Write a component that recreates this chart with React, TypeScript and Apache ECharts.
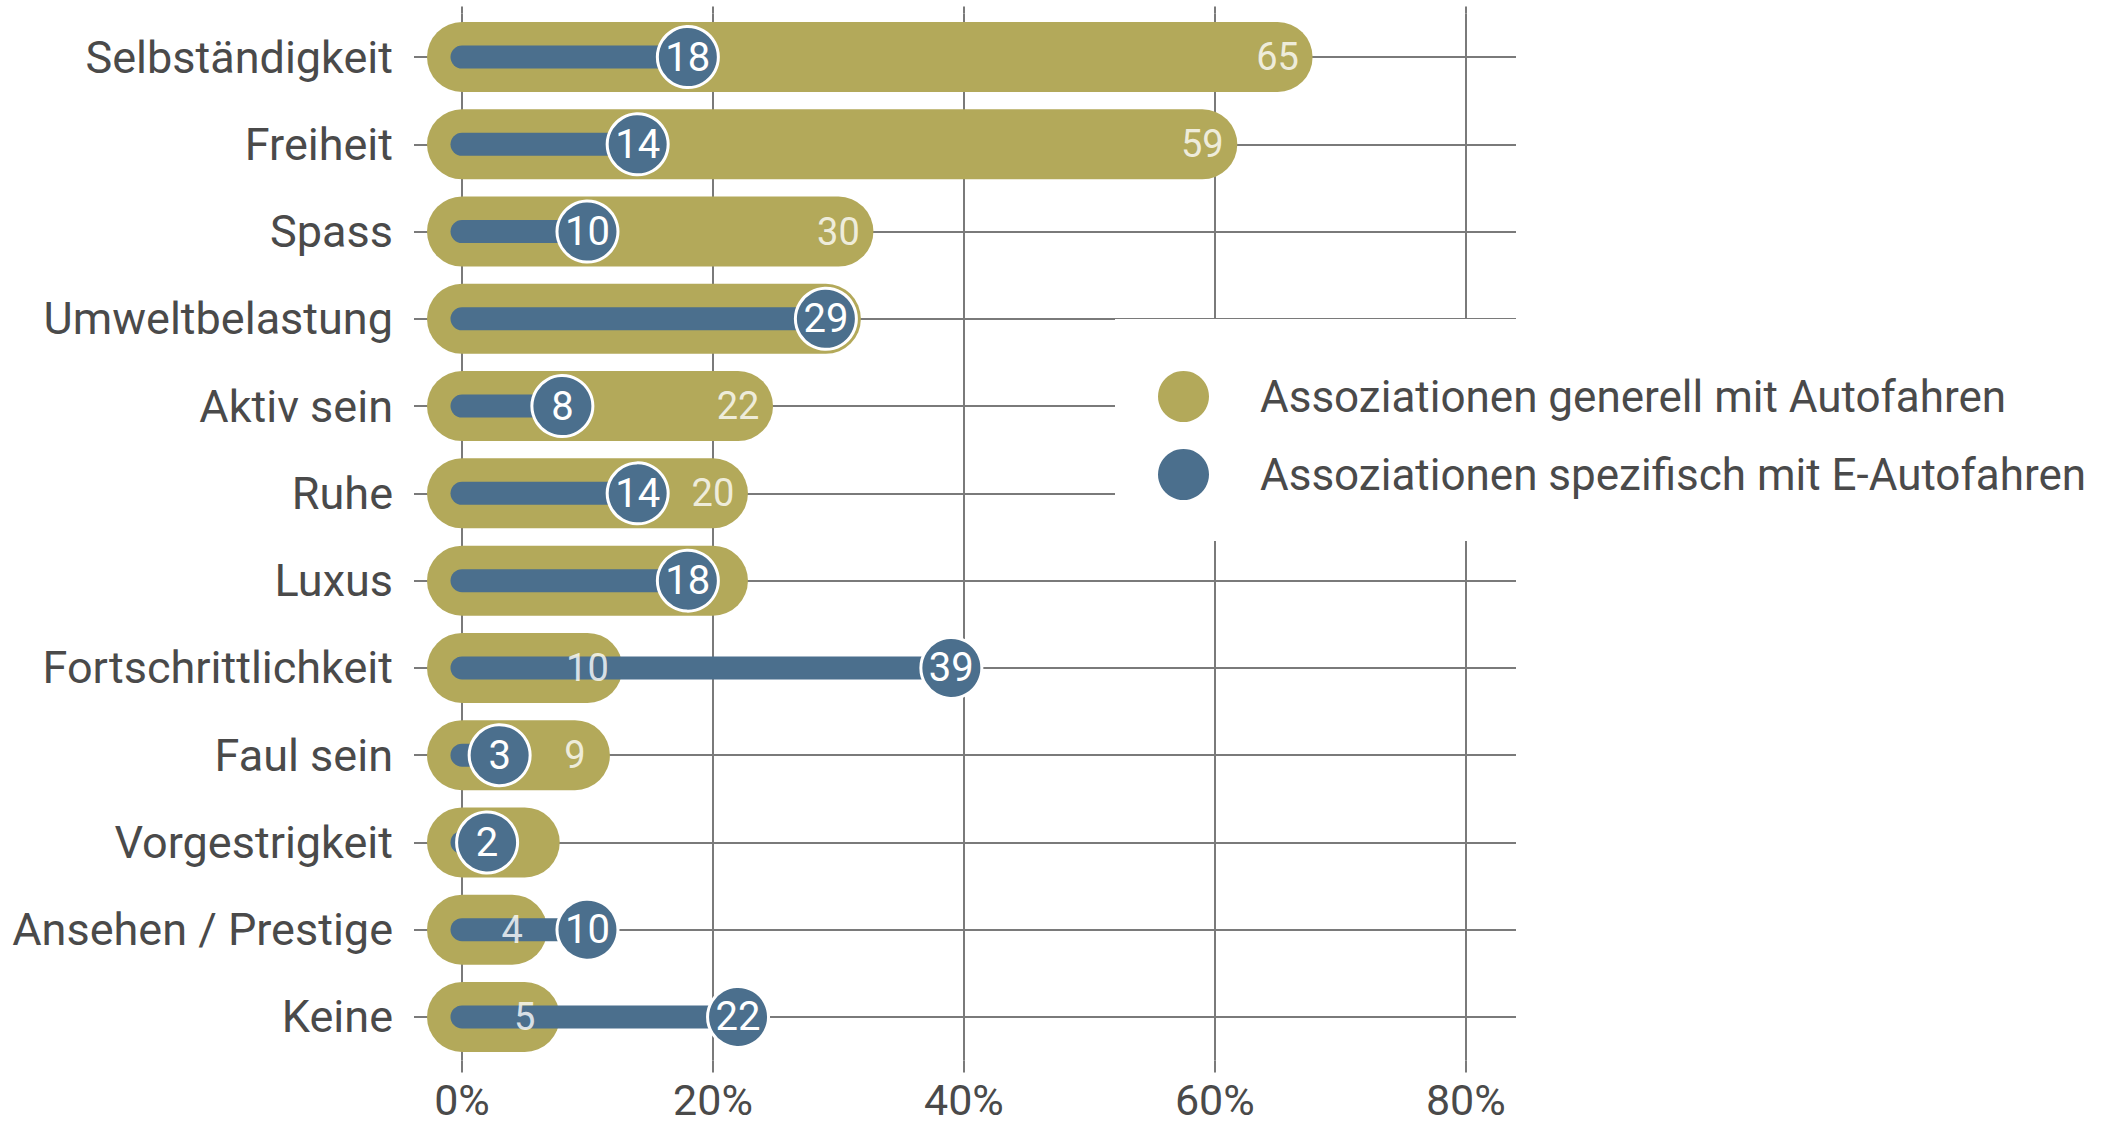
import React, { useEffect, useRef } from 'react';
import * as echarts from 'echarts';

const categories = [
  'Selbständigkeit',
  'Freiheit',
  'Spass',
  'Umweltbelastung',
  'Aktiv sein',
  'Ruhe',
  'Luxus',
  'Fortschrittlichkeit',
  'Faul sein',
  'Vorgestrigkeit',
  'Ansehen / Prestige',
  'Keine',
];
const generalValues = [65, 59, 30, 29, 22, 20, 20, 10, 9, 5, 4, 5];
const electricValues = [18, 14, 10, 29, 8, 14, 18, 39, 3, 2, 10, 22];
const xTicks = [0, 20, 40, 60, 80];
const seriesNames = [
  'Assoziationen generell mit Autofahren',
  'Assoziationen spezifisch mit E-Autofahren',
];

const OLIVE = '#b3a95a';
const BLUE = '#4b6f8d';
const GRID = '#7a7a7a';
const TEXT = '#4a4a4a';
const FONT = 'Roboto, "Noto Sans", sans-serif';

export default function App() {
  const ref = useRef<HTMLDivElement>(null);

  useEffect(() => {
    if (!ref.current) return;
    const chart = echarts.init(ref.current, undefined, { renderer: 'svg' });
    const gridLine = { color: GRID, width: 2 };

    const pill = (width: number, color: string) => (params: any, api: any) => {
      const v = api.value(0);
      const idx = api.value(1);
      const p0 = api.coord([0, idx]);
      const p1 = api.coord([v, idx]);
      return {
        type: 'line',
        shape: { x1: p0[0], y1: p0[1], x2: p1[0], y2: p1[1] },
        style: { stroke: color, lineWidth: width, lineCap: 'round' },
      };
    };

    chart.setOption({
      animation: false,
      textStyle: { fontFamily: FONT },
      grid: { left: 462, right: 593, top: 13.4, bottom: 61.4, containLabel: false },
      xAxis: [
        {
          type: 'value',
          min: 0,
          max: 84,
          interval: 20,
          position: 'bottom',
          axisLine: { show: false },
          axisTick: { show: true, length: 12, customValues: xTicks, lineStyle: gridLine },
          axisLabel: {
            customValues: xTicks,
            formatter: (v: number) => v + '%',
            fontSize: 43,
            lineHeight: 30,
            color: TEXT,
            fontFamily: FONT,
            margin: 24,
          },
          splitLine: { show: true, lineStyle: gridLine },
        },
        {
          type: 'value',
          min: 0,
          max: 84,
          interval: 20,
          position: 'top',
          axisLine: { show: false },
          axisTick: { show: true, length: 7, customValues: xTicks, lineStyle: gridLine },
          axisLabel: { show: false },
          splitLine: { show: false },
        },
      ],
      yAxis: {
        type: 'category',
        inverse: true,
        data: categories,
        axisLine: { show: false },
        axisTick: { show: true, alignWithLabel: true, length: 48, lineStyle: gridLine },
        axisLabel: { fontSize: 45, color: TEXT, fontFamily: FONT, margin: 69 },
        splitLine: { show: false },
      },
      legend: {
        orient: 'vertical',
        left: 1115,
        top: 319,
        z: 10,
        backgroundColor: '#ffffff',
        padding: [52, 200, 41, 43],
        itemWidth: 51,
        itemHeight: 51,
        itemGap: 27,
        selectedMode: false,
        textStyle: { fontSize: 44, color: TEXT, fontFamily: FONT, padding: [0, 0, 0, 46] },
        data: [
          { name: seriesNames[0], icon: 'circle', itemStyle: { color: OLIVE, borderWidth: 0 } },
          { name: seriesNames[1], icon: 'circle', itemStyle: { color: BLUE, borderWidth: 0 } },
        ],
      },
      series: [
        {
          type: 'custom',
          name: seriesNames[0],
          z: 2,
          silent: true,
          encode: { x: 0, y: 1 },
          itemStyle: { color: OLIVE },
          renderItem: pill(70, OLIVE),
          data: generalValues.map((v, i) => [v, i]),
        },
        {
          type: 'custom',
          name: seriesNames[1],
          z: 3,
          silent: true,
          encode: { x: 0, y: 1 },
          itemStyle: { color: BLUE },
          renderItem: pill(23, BLUE),
          data: electricValues.map((v, i) => [v, i]),
        },
        {
          type: 'scatter',
          name: seriesNames[0],
          z: 4,
          silent: true,
          symbolSize: 1,
          itemStyle: { color: 'rgba(0,0,0,0)' },
          label: {
            show: true,
            position: 'inside',
            color: '#ffffff',
            fontSize: 38,
            fontFamily: FONT,
            formatter: (p: any) => String(p.value[0]),
          },
          data: generalValues.map((v, i) => ({
            value: [v, i],
            label: { show: Math.abs(v - electricValues[i]) > 3 },
          })),
          markLine: {
            silent: true,
            z: 1,
            symbol: 'none',
            label: { show: false },
            emphasis: { disabled: true },
            lineStyle: { color: GRID, width: 2, type: 'solid' },
            data: categories.map((c) => ({ yAxis: c })),
          },
        },
        {
          type: 'scatter',
          name: seriesNames[1],
          z: 5,
          silent: true,
          symbol: 'circle',
          symbolSize: 61,
          itemStyle: { color: BLUE, borderColor: '#ffffff', borderWidth: 3, opacity: 1 },
          label: {
            show: true,
            position: 'inside',
            color: '#ffffff',
            fontSize: 40,
            fontFamily: FONT,
            formatter: (p: any) => String(p.value[0]),
          },
          data: electricValues.map((v, i) => [v, i]),
        },
      ],
    });

    return () => chart.dispose();
  }, []);

  return (
    <div
      ref={ref}
      style={{ position: 'absolute', left: 0, top: 0, width: 2109, height: 1122 }}
    />
  );
}
